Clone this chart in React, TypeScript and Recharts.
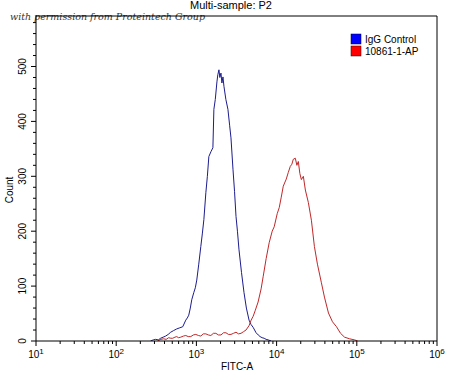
import React from "react";
import { LineChart, Line, XAxis, YAxis, ReferenceLine } from "recharts";

const blueFitc = [268, 290, 310, 335, 358, 385, 414, 445, 478, 520, 568, 620, 676, 737, 770, 803, 840, 875, 927, 970, 1011, 1070, 1135, 1185, 1239, 1312, 1370, 1430, 1520, 1606, 1652, 1720, 1803, 1850, 1910, 1960, 2024, 2080, 2144, 2205, 2330, 2473, 2600, 2698, 2858, 2990, 3118, 3250, 3398, 3650, 3925, 4200, 4535, 4800, 5093, 5550, 5900, 6228, 6600, 6998, 7400, 7850, 8550];
const blueCount = [0, 2, 3, 2, 5, 7, 9, 12, 16, 19, 22, 24, 26, 38, 42, 47, 60, 75, 88, 97, 111, 140, 172, 195, 221, 270, 300, 336, 345, 352, 422, 440, 472, 485, 494, 480, 488, 470, 481, 464, 440, 422, 392, 370, 313, 272, 227, 200, 166, 125, 88, 60, 38, 30, 25, 15, 11, 8, 6, 5, 3, 2, 0];

const redFitc = [328, 360, 390, 420, 451, 480, 506, 540, 568, 600, 638, 690, 737, 790, 851, 915, 983, 1060, 1135, 1220, 1312, 1410, 1514, 1630, 1749, 1880, 2024, 2180, 2336, 2510, 2698, 2900, 3118, 3350, 3599, 3870, 4157, 4535, 4812, 5100, 5398, 5878, 6412, 6792, 7407, 8081, 8811, 9333, 10180, 10790, 11430, 12110, 13200, 13980, 14810, 15500, 16150, 17110, 17900, 18660, 19500, 20350, 21560, 22840, 24900, 27160, 29610, 32290, 36210, 39490, 44330, 49760, 55850, 62690, 70370, 81250, 93800, 102400];
const redCount = [0, 3, 4, 3, 6, 5, 5, 7, 8, 6, 7, 9, 10, 8, 8, 11, 12, 10, 9, 13, 13, 11, 10, 14, 14, 11, 11, 15, 15, 12, 12, 14, 16, 13, 14, 17, 20, 28, 38, 45, 55, 71, 95, 117, 150, 179, 200, 208, 232, 243, 262, 282, 295, 307, 318, 322, 331, 333, 320, 327, 305, 294, 300, 275, 252, 220, 172, 140, 106, 80, 51, 35, 26, 14, 7, 4, 2, 0];

const seriesNames = ["IgG Control", "10861-1-AP"];
const decadeExponents = [1, 2, 3, 4, 5, 6];
const yMajorTicks = [0, 100, 200, 300, 400, 500];
const X_MIN = 10;
const X_MAX = 1000000;
const Y_MAX = 592;

const blueData = blueFitc.map((x, i) => ({ x, y: blueCount[i] }));
const redData = redFitc.map((x, i) => ({ x, y: redCount[i] }));

const xTicks: number[] = [];
decadeExponents.forEach((e) => {
  if (e === 6) {
    xTicks.push(Math.pow(10, 6));
  } else {
    for (let m = 1; m <= 9; m++) xTicks.push(m * Math.pow(10, e));
  }
});
const yTicks: number[] = [];
for (let v = 0; v <= 580; v += 20) yTicks.push(v);

const FONT = "'Liberation Sans', Arial, sans-serif";

const XTick = (props: any) => {
  const { x, y, payload } = props;
  const v = payload.value;
  const exp = Math.log10(v);
  const isMajor = Math.abs(exp - Math.round(exp)) < 1e-9;
  return (
    <g>
      <line x1={x} x2={x} y1={y} y2={y + (isMajor ? 5 : 3)} stroke="#000" strokeWidth={1} />
      {isMajor && (
        <text x={x} y={y + 17} textAnchor="middle" fontSize={10} fontFamily={FONT} fill="#000">
          10
          <tspan dy={-4} fontSize={8}>{Math.round(exp)}</tspan>
        </text>
      )}
    </g>
  );
};

const YTick = (props: any) => {
  const { x, y, payload } = props;
  const v = payload.value;
  const isMajor = yMajorTicks.includes(v);
  return (
    <g>
      <line x1={x - (isMajor ? 5 : 3)} x2={x} y1={y} y2={y} stroke="#000" strokeWidth={1} />
      {isMajor && (
        <text
          x={x - 10}
          y={y}
          transform={`rotate(-90 ${x - 10} ${y})`}
          textAnchor="middle"
          fontSize={10}
          fontFamily={FONT}
          fill="#000"
        >
          {v}
        </text>
      )}
    </g>
  );
};

export default function App() {
  return (
    <div style={{ position: "absolute", left: 0, top: 0, width: 450, height: 374, background: "#fff" }}>
      <LineChart width={450} height={374} margin={{ top: 16, right: 13, bottom: 0, left: 0 }}>
        <XAxis
          dataKey="x"
          type="number"
          scale="log"
          domain={[X_MIN, X_MAX]}
          ticks={xTicks}
          interval={0}
          allowDataOverflow
          height={33}
          tickLine={false}
          tickSize={0}
          tickMargin={0}
          tick={<XTick />}
          axisLine={{ stroke: "#000" }}
        />
        <YAxis
          dataKey="y"
          type="number"
          domain={[0, Y_MAX]}
          ticks={yTicks}
          interval={0}
          allowDataOverflow
          width={36}
          tickLine={false}
          tickSize={0}
          tickMargin={0}
          tick={<YTick />}
          axisLine={{ stroke: "#000" }}
        />
        <ReferenceLine y={Y_MAX} stroke="#000" strokeWidth={1} ifOverflow="extendDomain" />
        <ReferenceLine x={X_MAX} stroke="#000" strokeWidth={1} ifOverflow="extendDomain" />
        <Line
          data={blueData}
          dataKey="y"
          type="linear"
          stroke="#1c1c8e"
          strokeWidth={1}
          dot={false}
          isAnimationActive={false}
          name={seriesNames[0]}
        />
        <Line
          data={redData}
          dataKey="y"
          type="linear"
          stroke="#c0282a"
          strokeWidth={1}
          dot={false}
          isAnimationActive={false}
          name={seriesNames[1]}
        />
        <text x={231} y={9} textAnchor="middle" fontSize={11} fontFamily={FONT} fill="#000">
          Multi-sample: P2
        </text>
        <text
          x={10}
          y={20}
          fontSize={10}
          fontStyle="italic"
          fontFamily="'DejaVu Serif', serif"
          fill="#333"
          textLength={195}
          lengthAdjust="spacingAndGlyphs"
        >
          with permission from Proteintech Group
        </text>
        <text x={237} y={370} textAnchor="middle" fontSize={10} fontFamily={FONT} fill="#000">
          FITC-A
        </text>
        <text
          x={13}
          y={190}
          transform="rotate(-90 13 190)"
          textAnchor="middle"
          fontSize={10}
          fontFamily={FONT}
          fill="#000"
        >
          Count
        </text>
        <rect x={351} y={34} width={10} height={10} fill="#0000ff" stroke="#000033" strokeWidth={0.5} />
        <text x={365} y={43} fontSize={10} fontFamily={FONT} fill="#000">
          {seriesNames[0]}
        </text>
        <rect x={351} y={46} width={10} height={10} fill="#ff0000" stroke="#330000" strokeWidth={0.5} />
        <text x={365} y={55} fontSize={10} fontFamily={FONT} fill="#000">
          {seriesNames[1]}
        </text>
      </LineChart>
    </div>
  );
}
